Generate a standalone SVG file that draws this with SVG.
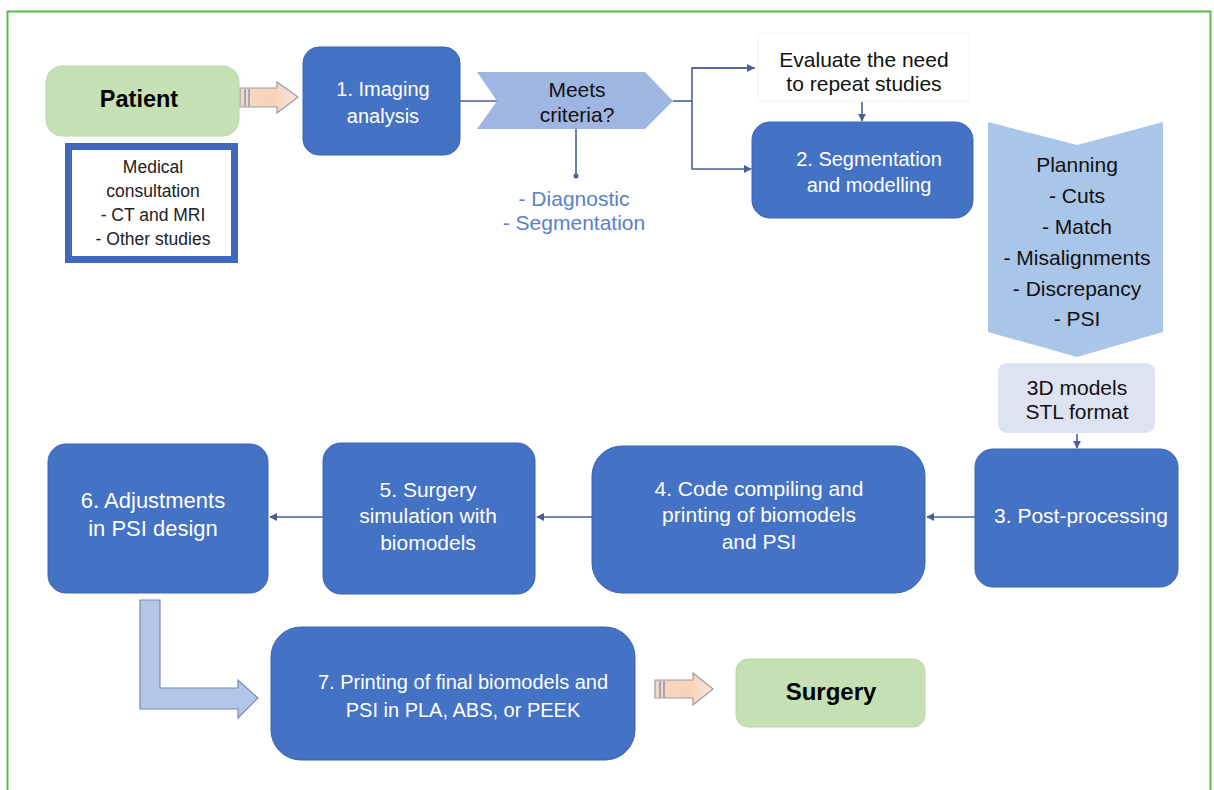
<svg xmlns="http://www.w3.org/2000/svg" width="1214" height="790" viewBox="0 0 1214 790">
<defs>
<style>
.box{fill:#4472c4;stroke:#3a64b0;stroke-width:1}
.wt{font-family:"Liberation Sans",Arial,sans-serif;font-size:20px;fill:#ffffff;text-anchor:middle}
.bt{font-family:"Liberation Sans",Arial,sans-serif;font-size:21px;fill:#111111;text-anchor:middle}
.bold{font-family:"Liberation Sans",Arial,sans-serif;font-size:23.5px;font-weight:bold;fill:#000;text-anchor:middle}
.sm{font-family:"Liberation Sans",Arial,sans-serif;font-size:17.5px;fill:#222;text-anchor:middle}
.lb{font-family:"Liberation Sans",Arial,sans-serif;font-size:21px;fill:#5b80c8;text-anchor:middle}
.con{fill:none;stroke:#4a5f94;stroke-width:1.6}
.green{fill:#c5e0b3;stroke:#bcd8a8;stroke-width:1}
.peach{fill:url(#pg);stroke:#9a9aa8;stroke-width:1.2}
</style>
<linearGradient id="pg" x1="0" y1="0" x2="1" y2="0">
<stop offset="0" stop-color="#f3d8c8"/>
<stop offset="0.6" stop-color="#f8d2b8"/>
<stop offset="1" stop-color="#fbe8dc"/>
</linearGradient>
<marker id="ah" viewBox="0 0 10 10" refX="9" refY="5" markerWidth="5" markerHeight="5" orient="auto">
<path d="M0,0 L10,5 L0,10 z" fill="#4a5f94"/>
</marker>
<marker id="dot" viewBox="0 0 10 10" refX="5" refY="5" markerWidth="4" markerHeight="4">
<circle cx="5" cy="5" r="4" fill="#4a5f94"/>
</marker>
</defs>
<rect x="0" y="0" width="1214" height="790" fill="#ffffff"/>
<rect x="7.5" y="11.5" width="1203" height="800" fill="none" stroke="#5cb848" stroke-width="2"/>

<g id="connectors">
<line class="con" x1="460" y1="101" x2="497" y2="101"/>
<line class="con" x1="576" y1="129" x2="576" y2="176" marker-end="url(#dot)"/>
<polyline class="con" points="673,101 692,101"/>
<polyline class="con" points="755,68 692,68 692,169 751,169" marker-end="url(#ah)"/>
<line class="con" x1="692" y1="68" x2="754" y2="68" marker-end="url(#ah)"/>
<line class="con" x1="862" y1="102" x2="862" y2="121" marker-end="url(#ah)"/>
<line class="con" x1="1077" y1="434" x2="1077" y2="448" marker-end="url(#ah)"/>
<line class="con" x1="975" y1="517" x2="927" y2="517" marker-end="url(#ah)"/>
<line class="con" x1="592" y1="517" x2="537" y2="517" marker-end="url(#ah)"/>
<line class="con" x1="323" y1="517" x2="270" y2="517" marker-end="url(#ah)"/>
<g id="arrow-patient">
<path class="peach" d="M240,88 L277,88 L277,82 L298,97 L277,113 L277,107 L240,107 Z"/>
<line x1="245" y1="89" x2="245" y2="106" stroke="#8d96b0" stroke-width="1.5"/>
<line x1="249" y1="89" x2="249" y2="106" stroke="#8d96b0" stroke-width="1.5"/>
</g>
<g id="arrow-surgery">
<path class="peach" d="M655,680 L693,680 L693,673 L713,689 L693,705 L693,698 L655,698 Z"/>
<line x1="660" y1="681" x2="660" y2="697" stroke="#8d96b0" stroke-width="1.5"/>
<line x1="664" y1="681" x2="664" y2="697" stroke="#8d96b0" stroke-width="1.5"/>
</g>
<path id="bent-arrow" d="M140,600 L160,600 L160,688 L238,688 L238,680 L258,698 L238,718 L238,709 L140,709 Z" fill="#b4c6e7" stroke="#7a88a8" stroke-width="1.2"/>
</g>

<g id="patient">
<rect class="green" x="46" y="66" width="193" height="70" rx="16"/>
<text class="bold" x="139" y="107">Patient</text>
</g>

<g id="medical">
<rect x="68.5" y="146.5" width="166" height="113" fill="#ffffff" stroke="#3f67bf" stroke-width="7"/>
<text class="sm" x="153" y="173">Medical</text>
<text class="sm" x="153" y="197">consultation</text>
<text class="sm" x="153" y="221">- CT and MRI</text>
<text class="sm" x="153" y="245">- Other studies</text>
</g>

<g id="node1">
<rect class="box" x="303" y="47" width="157" height="108" rx="16"/>
<text class="wt" x="383" y="96">1. Imaging</text>
<text class="wt" x="383" y="123">analysis</text>
</g>

<g id="criteria">
<path d="M477,72 L645,72 L673,101 L645,129 L477,129 L497,101 Z" fill="#9fb5e2"/>
<text class="bt" x="577" y="97">Meets</text>
<text class="bt" x="577" y="122">criteria?</text>
</g>

<g id="criteria-labels">
<text class="lb" x="574" y="206">- Diagnostic</text>
<text class="lb" x="574" y="230">- Segmentation</text>
</g>

<g id="evaluate">
<rect x="758" y="33" width="211" height="68" fill="#ffffff" stroke="#f2f2f2" stroke-width="1"/>
<text class="bt" x="864" y="67">Evaluate the need</text>
<text class="bt" x="864" y="91">to repeat studies</text>
</g>

<g id="node2">
<rect class="box" x="752" y="122" width="221" height="96" rx="18"/>
<text class="wt" x="869" y="166">2. Segmentation</text>
<text class="wt" x="869" y="192">and modelling</text>
</g>

<g id="planning">
<path d="M988,122 L1077,145 L1163,122 L1163,332 L1077,357 L988,332 Z" fill="#a9c5e7"/>
<text class="bt" x="1077" y="172">Planning</text>
<text class="bt" x="1077" y="203">- Cuts</text>
<text class="bt" x="1077" y="234">- Match</text>
<text class="bt" x="1077" y="265">- Misalignments</text>
<text class="bt" x="1077" y="296">- Discrepancy</text>
<text class="bt" x="1077" y="326">- PSI</text>
</g>

<g id="stl">
<rect x="998" y="363" width="157" height="70" rx="9" fill="#dde3f1"/>
<text class="bt" x="1077" y="395">3D models</text>
<text class="bt" x="1077" y="419">STL format</text>
</g>

<g id="node3">
<rect class="box" x="975" y="449" width="203" height="138" rx="18"/>
<text class="wt" x="1081" y="523" style="font-size:21px">3. Post-processing</text>
</g>

<g id="node4">
<rect class="box" x="592" y="446" width="333" height="147" rx="30"/>
<text class="wt" x="759" y="496" style="font-size:21px">4. Code compiling and</text>
<text class="wt" x="759" y="522" style="font-size:21px">printing of biomodels</text>
<text class="wt" x="759" y="549" style="font-size:21px">and PSI</text>
</g>

<g id="node5">
<rect class="box" x="323" y="443" width="212" height="151" rx="18"/>
<text class="wt" x="428" y="497" style="font-size:21px">5. Surgery</text>
<text class="wt" x="428" y="523" style="font-size:21px">simulation with</text>
<text class="wt" x="428" y="550" style="font-size:21px">biomodels</text>
</g>

<g id="node6">
<rect class="box" x="48" y="444" width="220" height="149" rx="18"/>
<text class="wt" x="153" y="508" style="font-size:22px">6. Adjustments</text>
<text class="wt" x="153" y="536" style="font-size:22px">in PSI design</text>
</g>

<g id="node7">
<rect class="box" x="271" y="627" width="364" height="133" rx="30"/>
<text class="wt" x="463" y="689">7. Printing of final biomodels and</text>
<text class="wt" x="463" y="717">PSI in PLA, ABS, or PEEK</text>
</g>

<g id="surgery">
<rect class="green" x="736" y="659" width="189" height="68" rx="12"/>
<text class="bold" x="831" y="700" style="font-size:24px">Surgery</text>
</g>
</svg>
